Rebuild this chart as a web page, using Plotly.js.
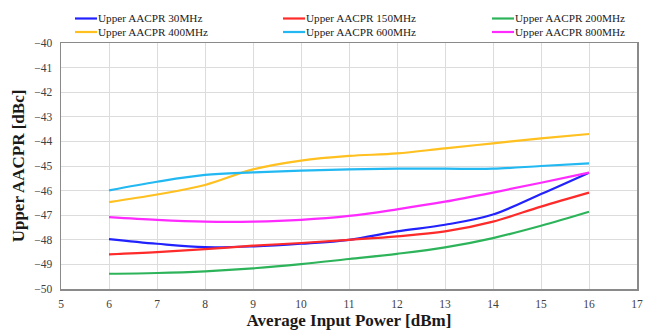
<!DOCTYPE html>
<html>
<head>
<meta charset="utf-8">
<script src="https://cdn.plot.ly/plotly-3.0.1.min.js"></script>
<style>html,body{margin:0;padding:0;background:#fff}#chart{width:650px;height:333px}</style>
</head>
<body>
<div id="chart"></div>
<script>
const xPower = [6, 7, 8, 9, 10, 11, 12, 13, 14, 15, 16];
const seriesNames = ["Upper AACPR 30MHz", "Upper AACPR 150MHz", "Upper AACPR 200MHz",
                     "Upper AACPR 400MHz", "Upper AACPR 600MHz", "Upper AACPR 800MHz"];
const aacpr30  = [-47.97, -48.16, -48.30, -48.27, -48.16, -48.00, -47.66, -47.39, -46.97, -46.14, -45.27];
const aacpr150 = [-48.59, -48.50, -48.38, -48.24, -48.13, -48.00, -47.86, -47.66, -47.26, -46.65, -46.08];
const aacpr200 = [-49.38, -49.35, -49.28, -49.16, -48.99, -48.78, -48.57, -48.31, -47.93, -47.43, -46.86];
const aacpr400 = [-46.47, -46.16, -45.77, -45.14, -44.78, -44.59, -44.49, -44.28, -44.08, -43.88, -43.70];
const aacpr600 = [-45.99, -45.64, -45.36, -45.26, -45.19, -45.14, -45.11, -45.11, -45.11, -45.00, -44.89];
const aacpr800 = [-47.08, -47.19, -47.26, -47.26, -47.19, -47.03, -46.76, -46.45, -46.08, -45.68, -45.27];
const seriesValues = [aacpr30, aacpr150, aacpr200, aacpr400, aacpr600, aacpr800];
const colors = ["#2222ff", "#ff2a2a", "#2db45a", "#ffc020", "#22b8f2", "#ff2aff"];

const font = "Liberation Serif, Times New Roman, serif";
const W = 650, H = 333;
const M = {l: 61, r: 13, t: 43, b: 44};
const pw = W - M.l - M.r, ph = H - M.t - M.b;
const px2x = p => (p - M.l) / pw;
const py2y = p => (H - M.b - p) / ph;

const traces = seriesValues.map((v, i) => ({
  x: xPower, y: v, name: seriesNames[i], type: "scatter", mode: "lines",
  line: {color: colors[i], width: 2.2, shape: "spline", smoothing: 1},
  showlegend: false
}));

// manual legend: 3 columns x 2 rows
const colX = [75, 283, 492], rowY = [18.5, 32];
const shapes = [], annotations = [];
seriesNames.forEach((name, i) => {
  const cx = colX[i % 3], cy = rowY[Math.floor(i / 3)];
  shapes.push({type: "line", xref: "paper", yref: "paper",
    x0: px2x(cx), x1: px2x(cx + 22), y0: py2y(cy), y1: py2y(cy),
    line: {color: colors[i], width: 2.2}});
  annotations.push({xref: "paper", yref: "paper", x: px2x(cx + 21), y: py2y(cy),
    xanchor: "left", yanchor: "middle", showarrow: false, text: name,
    font: {family: font, size: 11.2, color: "#1a1a1a"}});
});

const layout = {
  width: W, height: H,
  margin: {l: M.l, r: M.r, t: M.t, b: M.b, autoexpand: false},
  paper_bgcolor: "#fff", plot_bgcolor: "#fff",
  font: {family: font, size: 11, color: "#404040"},
  showlegend: false,
  shapes: shapes, annotations: annotations,
  xaxis: {
    range: [5, 17], dtick: 1, tick0: 5,
    showgrid: true, gridcolor: "#dcdcdc", gridwidth: 1,
    zeroline: false, showline: true, linecolor: "#8a8a8a", linewidth: 1.5, mirror: true,
    ticks: "", ticklabelstandoff: 4, tickfont: {family: font, size: 11.5, color: "#404040"},
    title: {text: "<b>Average Input Power [dBm]</b>", font: {family: font, size: 17, color: "#1a1a1a"}, standoff: 5}
  },
  yaxis: {
    range: [-50, -40], dtick: 1,
    showgrid: true, gridcolor: "#dcdcdc", gridwidth: 1,
    zeroline: false, showline: true, linecolor: "#8a8a8a", linewidth: 1.5, mirror: true,
    ticks: "", ticklabelstandoff: 5, tickfont: {family: font, size: 11.5, color: "#404040"},
    title: {text: "<b>Upper AACPR [dBc]</b>", font: {family: font, size: 17, color: "#1a1a1a"}, standoff: 5}
  }
};

Plotly.newPlot("chart", traces, layout, {displayModeBar: false, staticPlot: true});
</script>
</body>
</html>
